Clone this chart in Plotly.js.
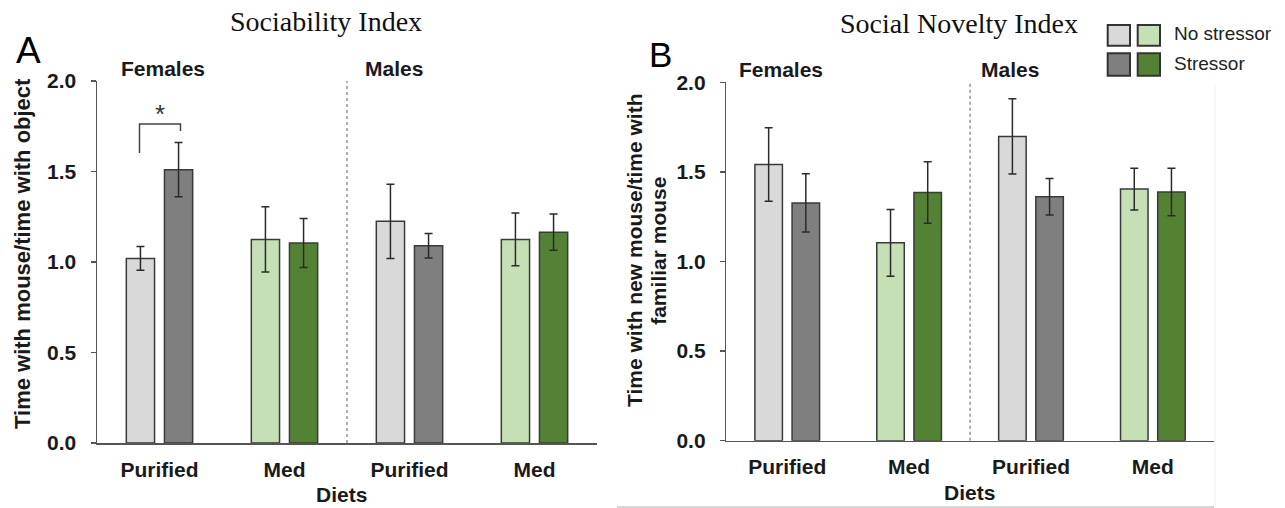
<!DOCTYPE html>
<html>
<head>
<meta charset="utf-8">
<script src="https://cdn.plot.ly/plotly-3.0.1.min.js"></script>
<style>html,body{margin:0;padding:0;background:#fff;}#chart{width:1285px;height:508px;}</style>
</head>
<body>
<div id="chart"></div>
<script>
// ---- data ----
const dietLabels = ["Purified", "Med", "Purified", "Med"];
const sexLabels = ["Females", "Males"];
const seriesNames = ["No stressor", "Stressor"];
const yTickVals = [0, 0.5, 1.0, 1.5, 2.0];
const yTickText = ["0.0", "0.5", "1.0", "1.5", "2.0"];

// Panel A: Sociability Index
const socNoStress    = [1.02, 1.125, 1.225, 1.125];
const socNoStressErr = [0.065, 0.18, 0.205, 0.146];
const socStress      = [1.51, 1.105, 1.09, 1.165];
const socStressErr   = [0.15, 0.136, 0.068, 0.10];

// Panel B: Social Novelty Index
const novNoStress    = [1.541, 1.104, 1.698, 1.404];
const novNoStressErr = [0.205, 0.186, 0.21, 0.117];
const novStress      = [1.327, 1.385, 1.361, 1.388];
const novStressErr   = [0.163, 0.172, 0.102, 0.133];

const colorsNoStress = ["#d9d9d9", "#c5e0b4", "#d9d9d9", "#c5e0b4"];
const colorsStress   = ["#7f7f7f", "#548235", "#7f7f7f", "#548235"];

// ---- helpers ----
const W = 1285, H = 508;
const px = x => x / W;
const py = y => 1 - y / H;
const pos = dietLabels.map((d, i) => i);
const FONT = "Liberation Sans, Arial, sans-serif";
const txt = "#1a1a1a";

function barTrace(y, err, colors, name, xa, ya) {
  return {
    type: "bar", x: pos, y: y, name: name, xaxis: xa, yaxis: ya,
    marker: { color: colors, line: { color: "#3a3a3a", width: 1.5 } },
    error_y: { type: "data", array: err, visible: true, color: "#2a2a2a", thickness: 1.5, width: 4 },
    showlegend: false, hoverinfo: "skip"
  };
}

const data = [
  barTrace(socNoStress, socNoStressErr, colorsNoStress, seriesNames[0], "x", "y"),
  barTrace(socStress, socStressErr, colorsStress, seriesNames[1], "x", "y"),
  barTrace(novNoStress, novNoStressErr, colorsNoStress, seriesNames[0], "x2", "y2"),
  barTrace(novStress, novStressErr, colorsStress, seriesNames[1], "x2", "y2")
];

const xBase = {
  range: [-0.5, 3.5], tickmode: "array", tickvals: pos, ticktext: dietLabels,
  ticks: "", showline: true, linecolor: "#555", linewidth: 1.5, showgrid: false, zeroline: false,
  tickfont: { family: FONT, size: 21, weight: 700, color: txt }, ticklabelstandoff: 7, fixedrange: true
};
const yBase = {
  range: [0, 2], tickmode: "array", tickvals: yTickVals, ticktext: yTickText,
  ticks: "outside", ticklen: 5, tickwidth: 1.5, tickcolor: "#555",
  showline: true, linecolor: "#555", linewidth: 1.5, showgrid: false, zeroline: false,
  tickfont: { family: FONT, size: 21, weight: 700, color: txt }, ticklabelstandoff: 10, fixedrange: true
};

const layout = {
  width: W, height: H, autosize: false,
  margin: { l: 0, r: 0, t: 0, b: 0 },
  paper_bgcolor: "#fff", plot_bgcolor: "rgba(0,0,0,0)",
  barmode: "group", bargap: 0.39, bargroupgap: 0.26,
  xaxis: Object.assign({}, xBase, { domain: [px(97), px(597)], anchor: "y" }),
  yaxis: Object.assign({}, yBase, { domain: [py(443), py(81)], anchor: "x" }),
  xaxis2: Object.assign({}, xBase, { domain: [px(726.3), px(1213.8)], anchor: "y2" }),
  yaxis2: Object.assign({}, yBase, { domain: [py(440.7), py(82.3)], anchor: "x2" }),
  shapes: [
    // dashed separators between sexes
    { type: "line", xref: "x", yref: "y", x0: 1.5, x1: 1.5, y0: 0, y1: 2, line: { color: "#777", width: 1.2, dash: "3px,3px" } },
    { type: "line", xref: "x2", yref: "y2", x0: 1.5, x1: 1.5, y0: 0, y1: 2, line: { color: "#777", width: 1.2, dash: "3px,3px" } },
    // significance bracket
    { type: "path", xref: "x", yref: "y", path: "M -0.16 1.602 L -0.16 1.762 L 0.168 1.762 L 0.168 1.724", line: { color: "#444", width: 1.5 } },
    // legend swatches
    { type: "rect", xref: "paper", yref: "paper", x0: px(1107.7), x1: px(1130), y0: py(45.7), y1: py(25), fillcolor: colorsNoStress[0], line: { color: "#333", width: 2 } },
    { type: "rect", xref: "paper", yref: "paper", x0: px(1137.7), x1: px(1160), y0: py(45.7), y1: py(25), fillcolor: colorsNoStress[1], line: { color: "#333", width: 2 } },
    { type: "rect", xref: "paper", yref: "paper", x0: px(1107.7), x1: px(1130), y0: py(75.7), y1: py(53.3), fillcolor: colorsStress[0], line: { color: "#333", width: 2 } },
    { type: "rect", xref: "paper", yref: "paper", x0: px(1137.7), x1: px(1160), y0: py(75.7), y1: py(53.3), fillcolor: colorsStress[1], line: { color: "#333", width: 2 } },
    // frame edge lines of panel B image
    { type: "line", xref: "paper", yref: "paper", x0: px(617), x1: px(1214), y0: py(507), y1: py(507), line: { color: "#c8c8c8", width: 1.5 } },
    { type: "line", xref: "paper", yref: "paper", x0: px(1215), x1: px(1215), y0: py(84), y1: py(507), line: { color: "#f1f1f1", width: 1 } }
  ],
  annotations: [
    // titles
    { text: "Sociability Index", xref: "paper", yref: "paper", x: px(326), y: py(21), xanchor: "center", yanchor: "middle", showarrow: false, font: { family: "Liberation Serif, Times New Roman, serif", size: 28, color: "#111" } },
    { text: "Social Novelty Index", xref: "paper", yref: "paper", x: px(958.5), y: py(23), xanchor: "center", yanchor: "middle", showarrow: false, font: { family: "Liberation Serif, Times New Roman, serif", size: 28, color: "#111" } },
    // panel letters
    { text: "A", xref: "paper", yref: "paper", x: px(28.7), y: py(50.5), xanchor: "center", yanchor: "middle", showarrow: false, font: { family: FONT, size: 37, color: "#000" } },
    { text: "B", xref: "paper", yref: "paper", x: px(660.3), y: py(54.5), xanchor: "center", yanchor: "middle", showarrow: false, font: { family: FONT, size: 35, color: "#000" } },
    // sex labels
    { text: sexLabels[0], xref: "paper", yref: "paper", x: px(162.5), y: py(69), xanchor: "center", yanchor: "middle", showarrow: false, font: { family: FONT, size: 21, weight: 700, color: txt } },
    { text: sexLabels[1], xref: "paper", yref: "paper", x: px(393.5), y: py(69), xanchor: "center", yanchor: "middle", showarrow: false, font: { family: FONT, size: 21, weight: 700, color: txt } },
    { text: sexLabels[0], xref: "paper", yref: "paper", x: px(781), y: py(70), xanchor: "center", yanchor: "middle", showarrow: false, font: { family: FONT, size: 21, weight: 700, color: txt } },
    { text: sexLabels[1], xref: "paper", yref: "paper", x: px(1009.5), y: py(70), xanchor: "center", yanchor: "middle", showarrow: false, font: { family: FONT, size: 21, weight: 700, color: txt } },
    // significance star
    { text: "*", xref: "x", yref: "y", x: 0.004, y: 1.82, xanchor: "center", yanchor: "middle", showarrow: false, font: { family: FONT, size: 26, color: "#333" } },
    // axis titles
    { text: "Time with mouse/time with object", xref: "paper", yref: "paper", x: px(22), y: py(254), textangle: -90, xanchor: "center", yanchor: "middle", showarrow: false, font: { family: FONT, size: 22, weight: 700, color: txt } },
    { text: "Time with new mouse/time with", xref: "paper", yref: "paper", x: px(634.5), y: py(250.5), textangle: -90, xanchor: "center", yanchor: "middle", showarrow: false, font: { family: FONT, size: 21, weight: 700, color: txt } },
    { text: "familiar mouse", xref: "paper", yref: "paper", x: px(658.3), y: py(250.5), textangle: -90, xanchor: "center", yanchor: "middle", showarrow: false, font: { family: FONT, size: 21, weight: 700, color: txt } },
    { text: "Diets", xref: "paper", yref: "paper", x: px(341), y: py(494), xanchor: "center", yanchor: "middle", showarrow: false, font: { family: FONT, size: 21, weight: 700, color: txt } },
    { text: "Diets", xref: "paper", yref: "paper", x: px(969.5), y: py(492), xanchor: "center", yanchor: "middle", showarrow: false, font: { family: FONT, size: 21, weight: 700, color: txt } },
    // legend text
    { text: seriesNames[0], xref: "paper", yref: "paper", x: px(1172), y: py(34), xanchor: "left", yanchor: "middle", showarrow: false, font: { family: FONT, size: 19, color: "#222" } },
    { text: seriesNames[1], xref: "paper", yref: "paper", x: px(1172), y: py(63.5), xanchor: "left", yanchor: "middle", showarrow: false, font: { family: FONT, size: 19, color: "#222" } }
  ]
};

Plotly.newPlot("chart", data, layout, { displayModeBar: false, staticPlot: true });
</script>
</body>
</html>
